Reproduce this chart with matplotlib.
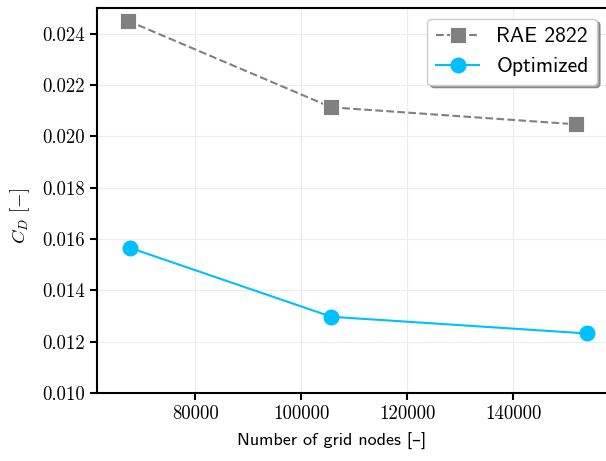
import matplotlib
matplotlib.use("Agg")
import matplotlib.pyplot as plt

# grid convergence of drag coefficient
nodes_rae = [67300, 105700, 151800]
cd_rae = [0.02450, 0.02113, 0.02047]
nodes_opt = [67600, 105700, 153900]
cd_opt = [0.01566, 0.01297, 0.01232]

xticks = [80000, 100000, 120000, 140000]
yticks = [0.010, 0.012, 0.014, 0.016, 0.018, 0.020, 0.022, 0.024]

plt.rcParams['font.family'] = ['cmr10', 'DejaVu Sans']
plt.rcParams['mathtext.fontset'] = 'cm'
plt.rcParams['axes.formatter.use_mathtext'] = True

fig = plt.figure(figsize=(6.06, 4.61), dpi=100)
ax = fig.add_axes([97 / 606, 68 / 461, 511 / 606, 385 / 461])

ax.plot(nodes_rae, cd_rae, ls='--', color='#808080', lw=1.5, marker='s',
        markersize=12, markeredgecolor='white', markeredgewidth=0.6,
        label='RAE 2822')
ax.plot(nodes_opt, cd_opt, ls='-', color='#00BFFF', lw=1.5, marker='o',
        markersize=10.5, label='Optimized')

ax.set_xlim(61450, 157900)
ax.set_ylim(0.010, 0.025)
ax.set_xticks(xticks)
ax.set_xticklabels([str(v) for v in xticks])
ax.set_yticks(yticks)
ax.set_yticklabels([f'{v:.3f}' for v in yticks])
ax.tick_params(labelsize=13.5, direction='out', length=5, width=1.5)
for s in ax.spines.values():
    s.set_linewidth(1.5)

ax.grid(True, color='#ececec', lw=0.8)
ax.set_axisbelow(True)

ax.set_xlabel('Number of grid nodes [–]', fontsize=13,
              family=['cmss10', 'DejaVu Sans'], va='center')
ax.xaxis.set_label_coords(0.46, -0.125)
ax.set_ylabel(r'$C_D$ [$-$]', fontsize=13.5, va='center')
ax.yaxis.set_label_coords(-0.151, 0.46)

leg = ax.legend(loc='upper right', shadow=True, framealpha=1, fancybox=True,
                prop={'family': ['cmss10', 'DejaVu Sans'], 'size': 15.5},
                borderaxespad=0.5)
leg.get_frame().set_edgecolor('#cccccc')

fig.savefig('out.png', dpi=100)
